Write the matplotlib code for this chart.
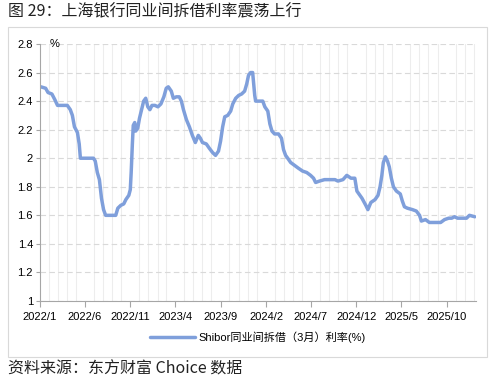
import matplotlib
matplotlib.use("Agg")
import matplotlib.pyplot as plt
import matplotlib.dates as mdates
from matplotlib.patches import Rectangle
import pandas as pd

title = "图 29：上海银行同业间拆借利率震荡上行"
source = "资料来源：东方财富 Choice 数据"
series_name = "Shibor同业间拆借（3月）利率(%)"
unit_label = "%"

dates = [
    "2022-01-04", "2022-01-20", "2022-01-28", "2022-02-10", "2022-02-20", "2022-03-01",
    "2022-03-17", "2022-04-03", "2022-04-13", "2022-04-20", "2022-04-27", "2022-05-07",
    "2022-05-13", "2022-05-17", "2022-05-31", "2022-06-17", "2022-06-30", "2022-07-06",
    "2022-07-13", "2022-07-20", "2022-07-27", "2022-08-03", "2022-08-10", "2022-08-23",
    "2022-09-13", "2022-09-20", "2022-09-30", "2022-10-10", "2022-10-17", "2022-10-27",
    "2022-11-01", "2022-11-04", "2022-11-08", "2022-11-11", "2022-11-16", "2022-11-19",
    "2022-11-26", "2022-12-02", "2022-12-09", "2022-12-16", "2022-12-23", "2022-12-30",
    "2023-01-06", "2023-01-13", "2023-01-23", "2023-02-02", "2023-02-12", "2023-02-22",
    "2023-03-02", "2023-03-09", "2023-03-19", "2023-03-26", "2023-04-05", "2023-04-15",
    "2023-04-22", "2023-04-29", "2023-05-09", "2023-05-19", "2023-05-29", "2023-06-08",
    "2023-06-18", "2023-06-25", "2023-07-02", "2023-07-15", "2023-07-25", "2023-08-05",
    "2023-08-15", "2023-08-25", "2023-09-01", "2023-09-08", "2023-09-15", "2023-09-25",
    "2023-10-05", "2023-10-12", "2023-10-22", "2023-11-01", "2023-11-11", "2023-11-21",
    "2023-11-28", "2023-12-04", "2023-12-11", "2023-12-18", "2023-12-25", "2023-12-28",
    "2024-01-11", "2024-01-21", "2024-01-28", "2024-02-07", "2024-02-14", "2024-02-21",
    "2024-03-01", "2024-03-14", "2024-03-24", "2024-03-31", "2024-04-07", "2024-04-14",
    "2024-04-24", "2024-05-07", "2024-05-20", "2024-06-03", "2024-06-17", "2024-06-30",
    "2024-07-10", "2024-07-17", "2024-07-30", "2024-08-16", "2024-09-03", "2024-09-20",
    "2024-09-30", "2024-10-17", "2024-10-30", "2024-11-13", "2024-11-26", "2024-12-03",
    "2024-12-20", "2025-01-02", "2025-01-09", "2025-01-19", "2025-02-02", "2025-02-12",
    "2025-02-19", "2025-02-25", "2025-03-02", "2025-03-09", "2025-03-16", "2025-03-22",
    "2025-03-29", "2025-04-05", "2025-04-15", "2025-04-28", "2025-05-05", "2025-05-12",
    "2025-05-22", "2025-06-08", "2025-06-21", "2025-07-02", "2025-07-08", "2025-07-22",
    "2025-08-04", "2025-08-25", "2025-09-11", "2025-09-24", "2025-10-08", "2025-10-18",
    "2025-10-28", "2025-11-07", "2025-11-24", "2025-12-07", "2025-12-17", "2026-01-04",
]
values = [
    2.50, 2.49, 2.46, 2.45, 2.41, 2.37,
    2.37, 2.37, 2.34, 2.30, 2.22, 2.18,
    2.10, 2.00, 2.00, 2.00, 2.00, 1.98,
    1.90, 1.85, 1.72, 1.64, 1.60, 1.60,
    1.60, 1.65, 1.67, 1.68, 1.71, 1.74,
    1.78, 1.90, 2.10, 2.23, 2.25, 2.19,
    2.21, 2.28, 2.34, 2.40, 2.42, 2.36,
    2.34, 2.37, 2.37, 2.36, 2.38, 2.43,
    2.49, 2.50, 2.47, 2.42, 2.43, 2.43,
    2.40, 2.34, 2.27, 2.22, 2.16, 2.11,
    2.16, 2.14, 2.11, 2.10, 2.07, 2.04,
    2.02, 2.05, 2.12, 2.22, 2.29, 2.30,
    2.33, 2.38, 2.42, 2.44, 2.45, 2.47,
    2.52, 2.58, 2.60, 2.60, 2.44, 2.40,
    2.40, 2.40, 2.36, 2.33, 2.24, 2.19,
    2.17, 2.17, 2.14, 2.06, 2.02, 2.00,
    1.97, 1.95, 1.93, 1.91, 1.90, 1.88,
    1.86, 1.83, 1.84, 1.85, 1.85, 1.85,
    1.84, 1.85, 1.88, 1.86, 1.86, 1.77,
    1.72, 1.67, 1.64, 1.69, 1.71, 1.74,
    1.80, 1.88, 1.97, 2.01, 1.98, 1.94,
    1.86, 1.80, 1.77, 1.75, 1.70, 1.66,
    1.65, 1.64, 1.63, 1.60, 1.56, 1.57,
    1.55, 1.55, 1.55, 1.57, 1.58, 1.58,
    1.59, 1.58, 1.58, 1.58, 1.60, 1.59,
]
y_ticks = [1, 1.2, 1.4, 1.6, 1.8, 2, 2.2, 2.4, 2.6, 2.8]
y_tick_labels = ["1", "1.2", "1.4", "1.6", "1.8", "2", "2.2", "2.4", "2.6", "2.8"]

x = pd.to_datetime(dates)

plt.rcParams['font.family'] = ['Liberation Sans', 'Noto Sans CJK SC', 'DejaVu Sans']

fig = plt.figure(figsize=(4.97, 3.79), dpi=100)
ax = fig.add_axes([40/497, 1 - 301/379, 436/497, 257/379])

line_color = "#7f9fdb"
ax.plot(x, values, color=line_color, lw=2.5, solid_capstyle='round',
        solid_joinstyle='round', label=series_name)

ax.set_ylim(1, 2.8)
ax.set_yticks(y_ticks)
ax.set_yticklabels(y_tick_labels)
ax.set_xlim(pd.Timestamp("2022-01-01"), pd.Timestamp("2026-01-08"))

major_ticks = pd.date_range("2022-01-01", "2025-12-31", freq="5MS")
ax.set_xticks(major_ticks)
ax.set_xticklabels([f"{d.year}/{d.month}" for d in major_ticks])
ax.xaxis.set_minor_locator(mdates.MonthLocator())

ax.grid(axis='y', which='major', color='#d9d9d9', linestyle=(0, (5, 3)), lw=0.8)
ax.grid(axis='x', which='minor', color='#ededed', linestyle='-', lw=0.8)
ax.set_axisbelow(True)

for s in ['top', 'right']:
    ax.spines[s].set_visible(False)
for s in ['left', 'bottom']:
    ax.spines[s].set_color('#a6a6a6')
    ax.spines[s].set_linewidth(0.8)

ax.tick_params(axis='both', which='major', labelsize=8, colors='#000000', pad=2)
ax.tick_params(axis='x', which='major', length=4, color='#a6a6a6', direction='out')
ax.tick_params(axis='x', which='minor', length=0)
ax.tick_params(axis='y', which='major', length=3, color='#a6a6a6', direction='out')
ax.tick_params(axis='x', pad=4)

ax.text(0.034, 1.0, unit_label, transform=ax.transAxes, fontsize=8,
        ha='center', va='center')

leg = ax.legend(loc='upper center', bbox_to_anchor=(0.5, -0.1), frameon=False,
                fontsize=8, handlelength=4.0, handletextpad=0.3, borderaxespad=0)

fig.add_artist(Rectangle((8/497, 1 - 357/379), 479/497, 330/379,
                         transform=fig.transFigure, fill=False,
                         edgecolor='#d9d9d9', lw=0.8))

fig.text(8/497, 1 - 12/379, title, fontsize=11.5, ha='left', va='center',
         color='#222222', family=['Noto Sans CJK SC', 'DejaVu Sans'])
fig.text(8/497, 1 - 369/379, source, fontsize=11.5, ha='left', va='center',
         color='#222222', family=['Noto Sans CJK SC', 'DejaVu Sans'])

fig.savefig("out.png", dpi=100)
